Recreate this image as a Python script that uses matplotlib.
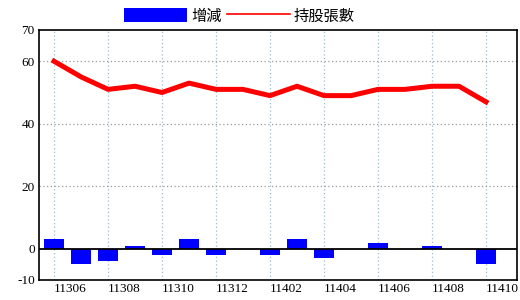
import matplotlib
matplotlib.use('Agg')
import matplotlib.pyplot as plt
from matplotlib.patches import Patch
from matplotlib.lines import Line2D

# months (ROC year + month) and values
months = ['11306', '11307', '11308', '11309', '11310', '11311', '11312',
          '11401', '11402', '11403', '11404', '11405', '11406', '11407',
          '11408', '11409', '11410']
change = [3, -5, -4, 1, -2, 3, -2, 0, -2, 3, -3, 0, 2, 0, 1, 0, -5]   # 增減
holdings = [60, 55, 51, 52, 50, 53, 51, 51, 49, 52, 49, 49, 51, 51, 52, 52, 47]  # 持股張數
yticks = [-10, 0, 20, 40, 60, 70]

plt.rcParams['font.family'] = ['Liberation Serif', 'Noto Sans CJK TC']

fig = plt.figure(figsize=(5.2, 3.0), dpi=100)
ax = fig.add_axes([39/520, 20/300, 478/520, 250/300])

x = list(range(len(months)))
ax.bar(x, change, width=0.74, color='#0000ff', zorder=3)
ax.plot(x, holdings, color='#ff0000', lw=3.6, solid_joinstyle='round', zorder=4)
ax.axhline(0, color='black', lw=1.3, zorder=3.5)

ax.set_xlim(-0.556, 17.148)
ax.set_ylim(-10, 70)
ax.set_yticks(yticks)
ax.set_yticklabels([str(v) for v in yticks], fontsize=9.5)

label_idx = x[::2]
ax.set_xticks(label_idx)
ax.set_xticklabels([months[i] for i in label_idx], fontsize=9.5, ha='left')
ax.tick_params(length=0, pad=2)
ax.tick_params(axis='y', pad=3)

for i in label_idx:
    ax.axvline(i, color='#9dbccc', lw=0.9, ls=(0, (1, 2)), zorder=1)
for v in [20, 40, 60]:
    ax.axhline(v, color='#999999', lw=0.9, ls=(0, (1, 2)), zorder=1)

for s in ax.spines.values():
    s.set_color('black')
    s.set_linewidth(1.2)

handles = [Patch(facecolor='#0000ff', edgecolor='none', label='增減'),
           Line2D([], [], color='#ff0000', lw=1.2, label='持股張數')]
fig.legend(handles=handles, loc='center', bbox_to_anchor=(0.4606, 0.9467), ncol=2,
           frameon=False, borderpad=0, handlelength=4.1, handleheight=1.05,
           handletextpad=0.26, columnspacing=0.35,
           prop={'family': ['Noto Sans CJK TC'], 'size': 11})

fig.savefig('out.png', dpi=100)
